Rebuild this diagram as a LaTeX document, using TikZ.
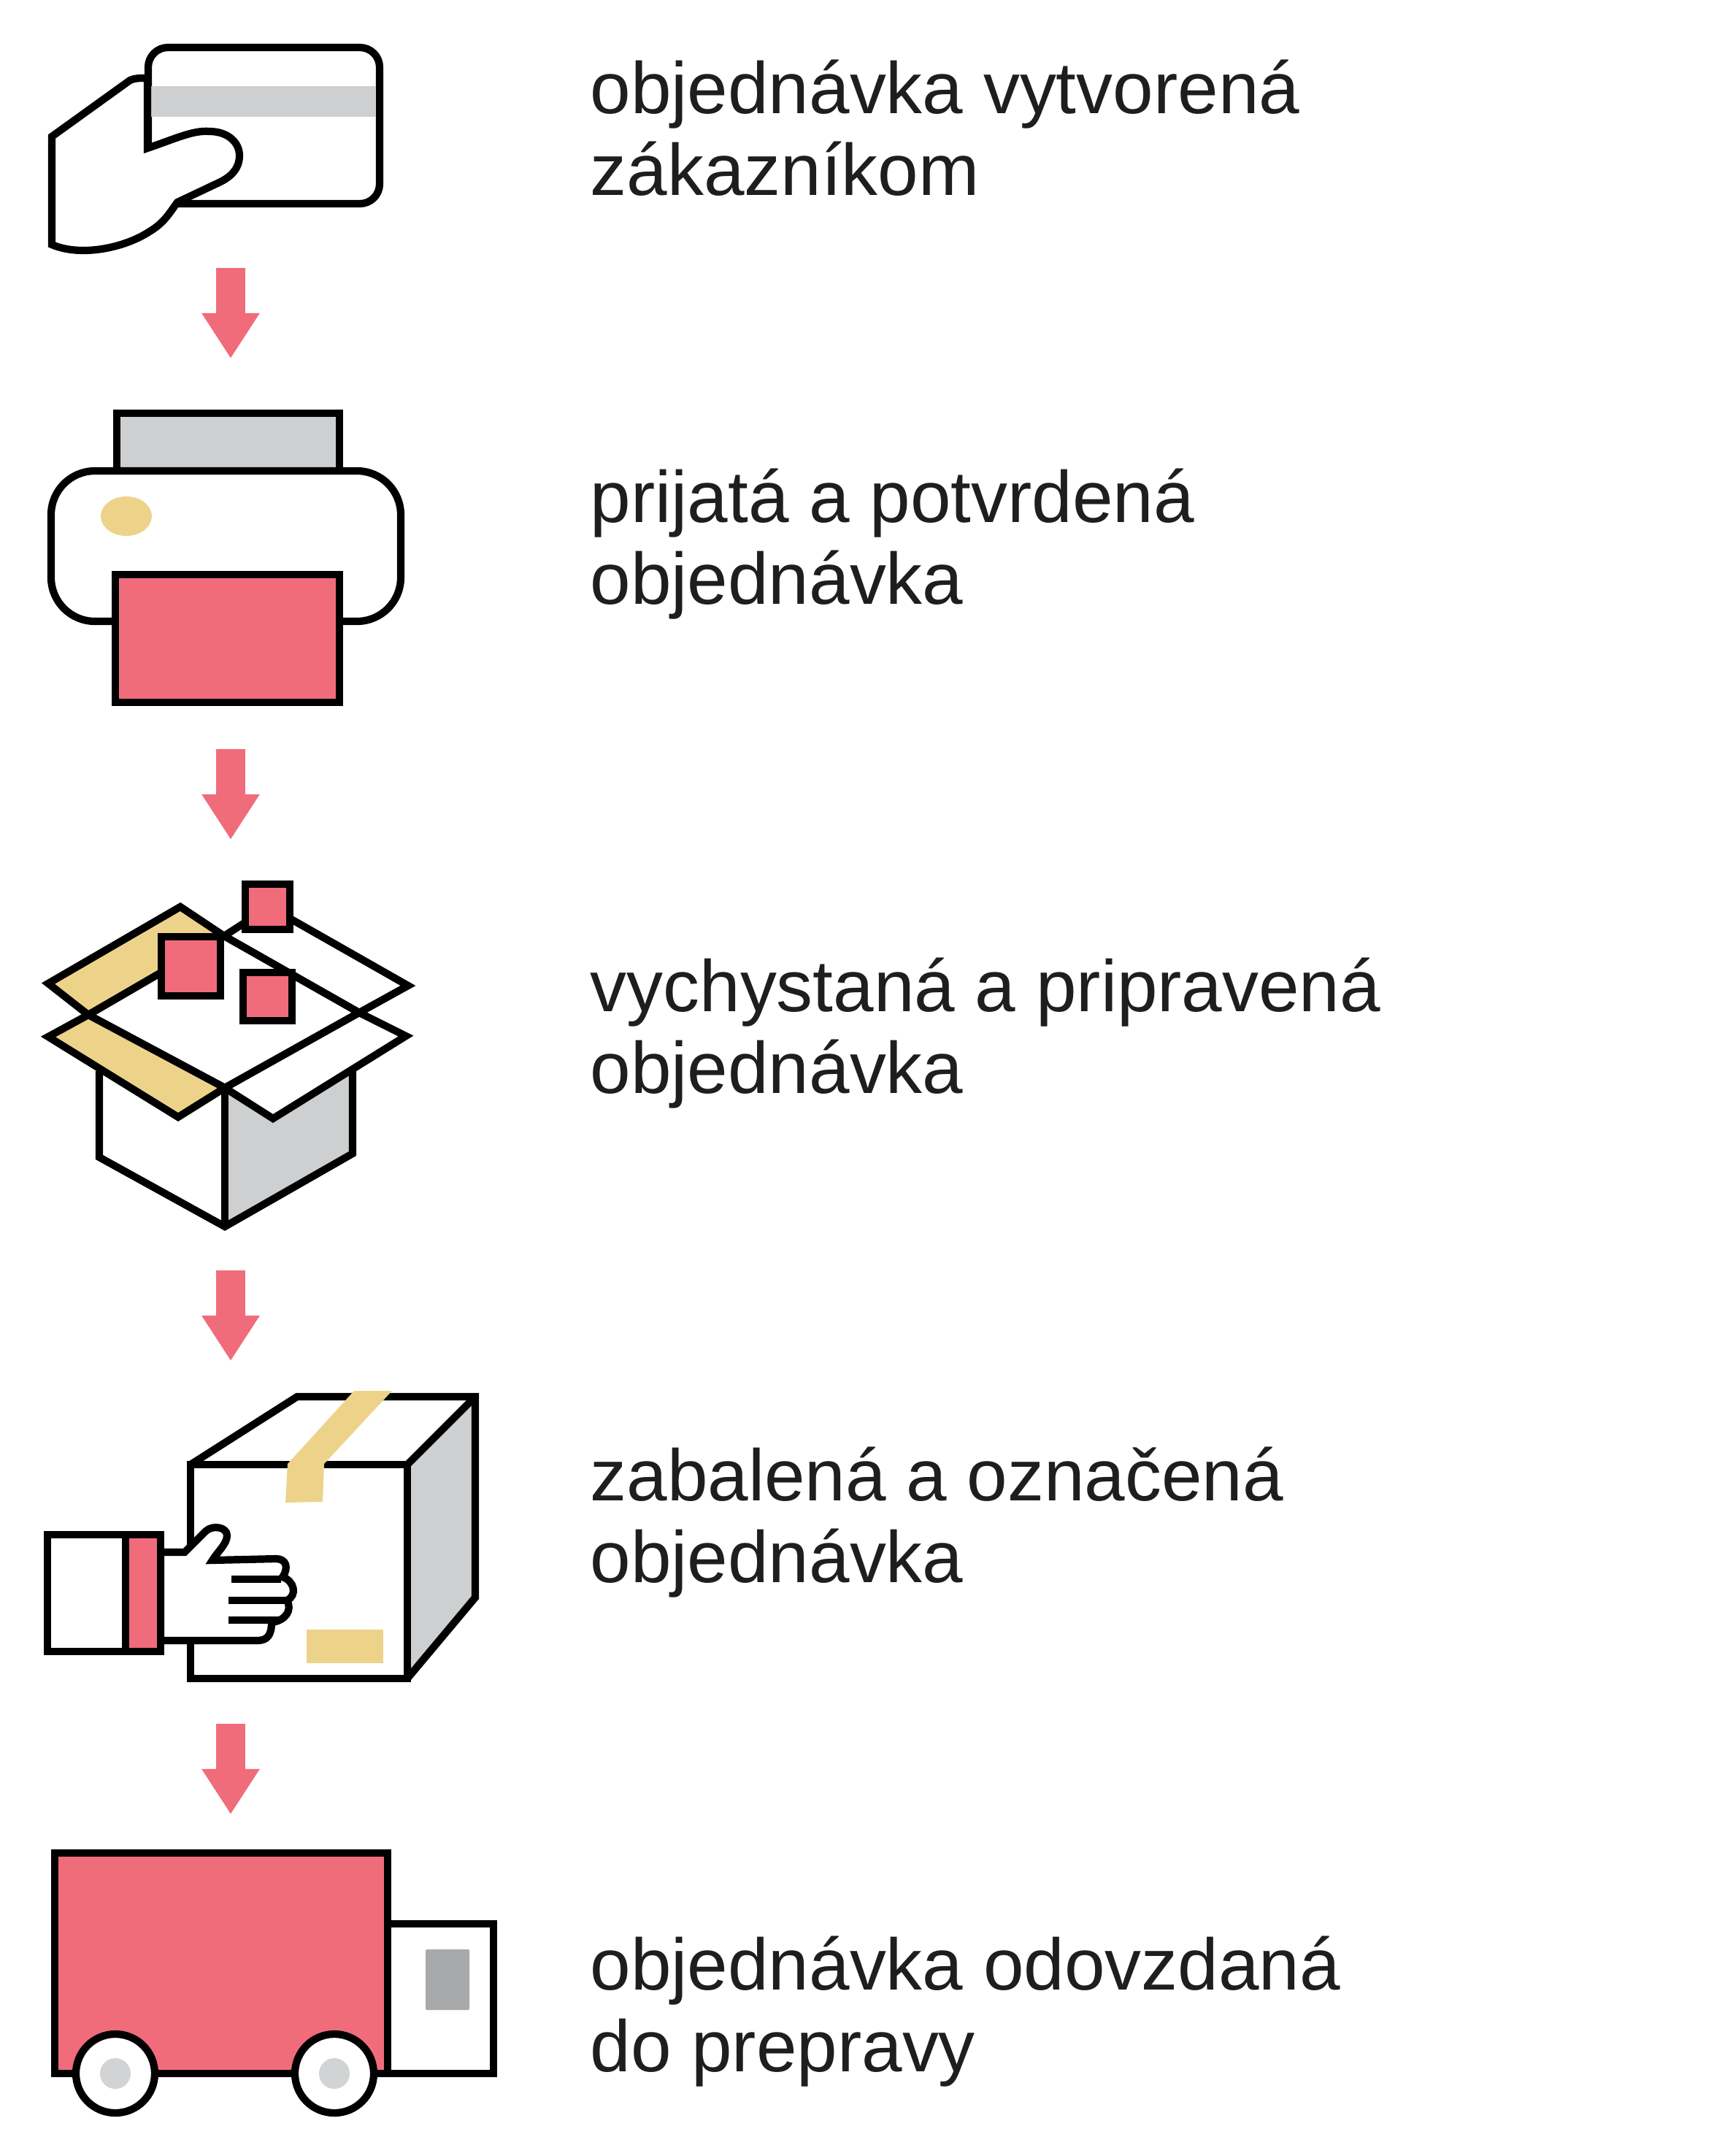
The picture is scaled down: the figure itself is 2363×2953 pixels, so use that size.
\documentclass[tikz,border=0pt]{standalone}
\usepackage{fontspec}
\setmainfont{Liberation Sans}
\usetikzlibrary{arrows.meta}
\definecolor{pinkfill}{HTML}{F06C7B}
\definecolor{tanfill}{HTML}{EDD38A}
\definecolor{greyfill}{HTML}{CDCFD1}
\definecolor{darkgrey}{HTML}{A7A9AB}
\definecolor{hubgrey}{HTML}{D2D3D5}
\definecolor{inktext}{HTML}{1E1E1E}
\tikzset{
	outline/.style={draw=black,line width=2.9pt,line join=miter,miter limit=4},
	flowarrow/.style={draw=pinkfill,line width=0.4cm,-{Triangle[length=0.62cm,width=0.75cm]}},
	steptext/.style={anchor=west,align=left,inner sep=0pt,text=inktext,font=\fontsize{28.4}{31.9}\selectfont}
}
\begin{document}
\begin{tikzpicture}[x=0.01cm,y=-0.01cm]
	\useasboundingbox (0,0) rectangle (2363,2953);
	% card and hand
	\draw[outline,fill=white,rounded corners=0.27cm] (203,65) rectangle (520,279);
	\fill[greyfill] (207,118) rectangle (515,160);
	\draw[outline,fill=white] (71,187) -- (178,110) .. controls (184,107) and (190,107) .. (202,107) -- (202,203)
		.. controls (240,190) and (265,178) .. (287,180) .. controls (312,180) and (328,195) .. (328,213)
		.. controls (328,232) and (315,243) .. (300,250) -- (243,277)
		.. controls (232,292) and (225,305) .. (205,317) .. controls (170,340) and (110,352) .. (71,335) -- cycle;
	\draw[outline] (243,279) -- (300,279);
	% printer
	\draw[outline,fill=greyfill] (160,566) rectangle (465,645);
	\draw[outline,fill=white,rounded corners=0.6cm] (70,645) rectangle (549,851);
	\draw[outline,fill=pinkfill] (158,787) rectangle (465,962);
	\fill[tanfill] (173,707) ellipse [x radius=35,y radius=27];
	% open box
	\fill[white] (136,1467) -- (308,1490) -- (308,1678) -- (136,1585) -- cycle;
	\fill[greyfill] (308,1490) -- (483,1467) -- (483,1580) -- (308,1678) -- cycle;
	\draw[outline] (136,1467) -- (136,1585) -- (308,1680) -- (483,1580) -- (483,1467);
	\draw[outline] (308,1490) -- (308,1676);
	\draw[outline,fill=white] (307,1282) -- (369,1242) -- (559,1350) -- (492,1387) -- cycle;
	\draw[outline,fill=tanfill] (121,1390) -- (66,1347) -- (247,1242) -- (307,1282) -- cycle;
	\draw[outline,fill=white] (121,1390) -- (307,1282) -- (492,1387) -- (308,1490) -- cycle;
	\draw[outline,fill=tanfill] (121,1390) -- (66,1420) -- (244,1530) -- (308,1490) -- cycle;
	\draw[outline,fill=white] (492,1387) -- (556,1419) -- (374,1532) -- (308,1490) -- cycle;
	\draw[outline,fill=pinkfill] (221,1283) rectangle (302,1364);
	\draw[outline,fill=pinkfill] (336,1211) rectangle (397,1273);
	\draw[outline,fill=pinkfill] (333,1332) rectangle (400,1398);
	% taped box and hand
	\fill[white] (261,2006) -- (407,1913) -- (655,1913) -- (558,2006) -- cycle;
	\fill[greyfill] (558,2006) -- (655,1913) -- (655,2188) -- (558,2299) -- cycle;
	\draw[outline,fill=white] (261,2006) rectangle (558,2299);
	\draw[outline] (261,2006) -- (407,1913) -- (651,1913) -- (651,2188) -- (558,2299);
	\draw[outline] (558,2006) -- (651,1913);
	\fill[tanfill] (485,1905) -- (537,1905) -- (444,2005) -- (442,2057) -- (391,2058) -- (394,2005) -- cycle;
	\fill[tanfill] (420,2232) rectangle (525,2278);
	\draw[outline,fill=white] (220,2126) -- (253,2126) -- (282,2097) .. controls (292,2088) and (311,2092) .. (311,2103)
		.. controls (311,2115) and (298,2125) .. (291,2137) -- (378,2135) .. controls (392,2135) and (396,2147) .. (387,2160)
		.. controls (403,2165) and (408,2185) .. (393,2192) .. controls (401,2205) and (391,2220) .. (372,2222)
		.. controls (372,2240) and (366,2247) .. (352,2247) -- (220,2247) -- cycle;
	\draw[outline] (317,2163) -- (385,2163);
	\draw[outline] (313,2192) -- (393,2192);
	\draw[outline] (313,2219) -- (383,2219);
	\fill[pinkfill] (172,2102) rectangle (220,2262);
	\draw[outline] (65,2102) rectangle (220,2262);
	\draw[outline] (172,2102) -- (172,2262);
	% truck
	\draw[outline,fill=pinkfill] (75,2538) rectangle (531,2840);
	\draw[outline,fill=white] (531,2635) rectangle (676,2840);
	\fill[darkgrey,rounded corners=0.02cm] (583,2670) rectangle (643,2753);
	\foreach \xpos in {158,458}{
		\draw[outline,fill=white] (\xpos,2840) ellipse [x radius=54,y radius=54];
		\fill[hubgrey] (\xpos,2840) ellipse [x radius=21,y radius=21];
	}
	% arrows
	\coordinate (orderout) at (316,367);
	\coordinate (printin) at (316,491);
	\coordinate (printout) at (316,1026);
	\coordinate (boxin) at (316,1150);
	\coordinate (boxout) at (316,1740);
	\coordinate (packin) at (316,1864);
	\coordinate (packout) at (316,2361);
	\coordinate (truckin) at (316,2485);
	\draw[flowarrow] (orderout) -- (printin);
	\draw[flowarrow] (printout) -- (boxin);
	\draw[flowarrow] (boxout) -- (packin);
	\draw[flowarrow] (packout) -- (truckin);
	% labels
	\node[steptext] (ordertext) at (808,175) {objednávka vytvorená\\zákazníkom};
	\node[steptext] (printtext) at (808,745) {prijatá a potvrdená\\objednávka};
	\node[steptext] (boxtext) at (808,1415) {vychystaná a pripravená\\objednávka};
	\node[steptext] (packtext) at (808,2085) {zabalená a označená\\objednávka};
	\node[steptext] (trucktext) at (808,2755) {objednávka odovzdaná\\do prepravy};
\end{tikzpicture}
\end{document}
